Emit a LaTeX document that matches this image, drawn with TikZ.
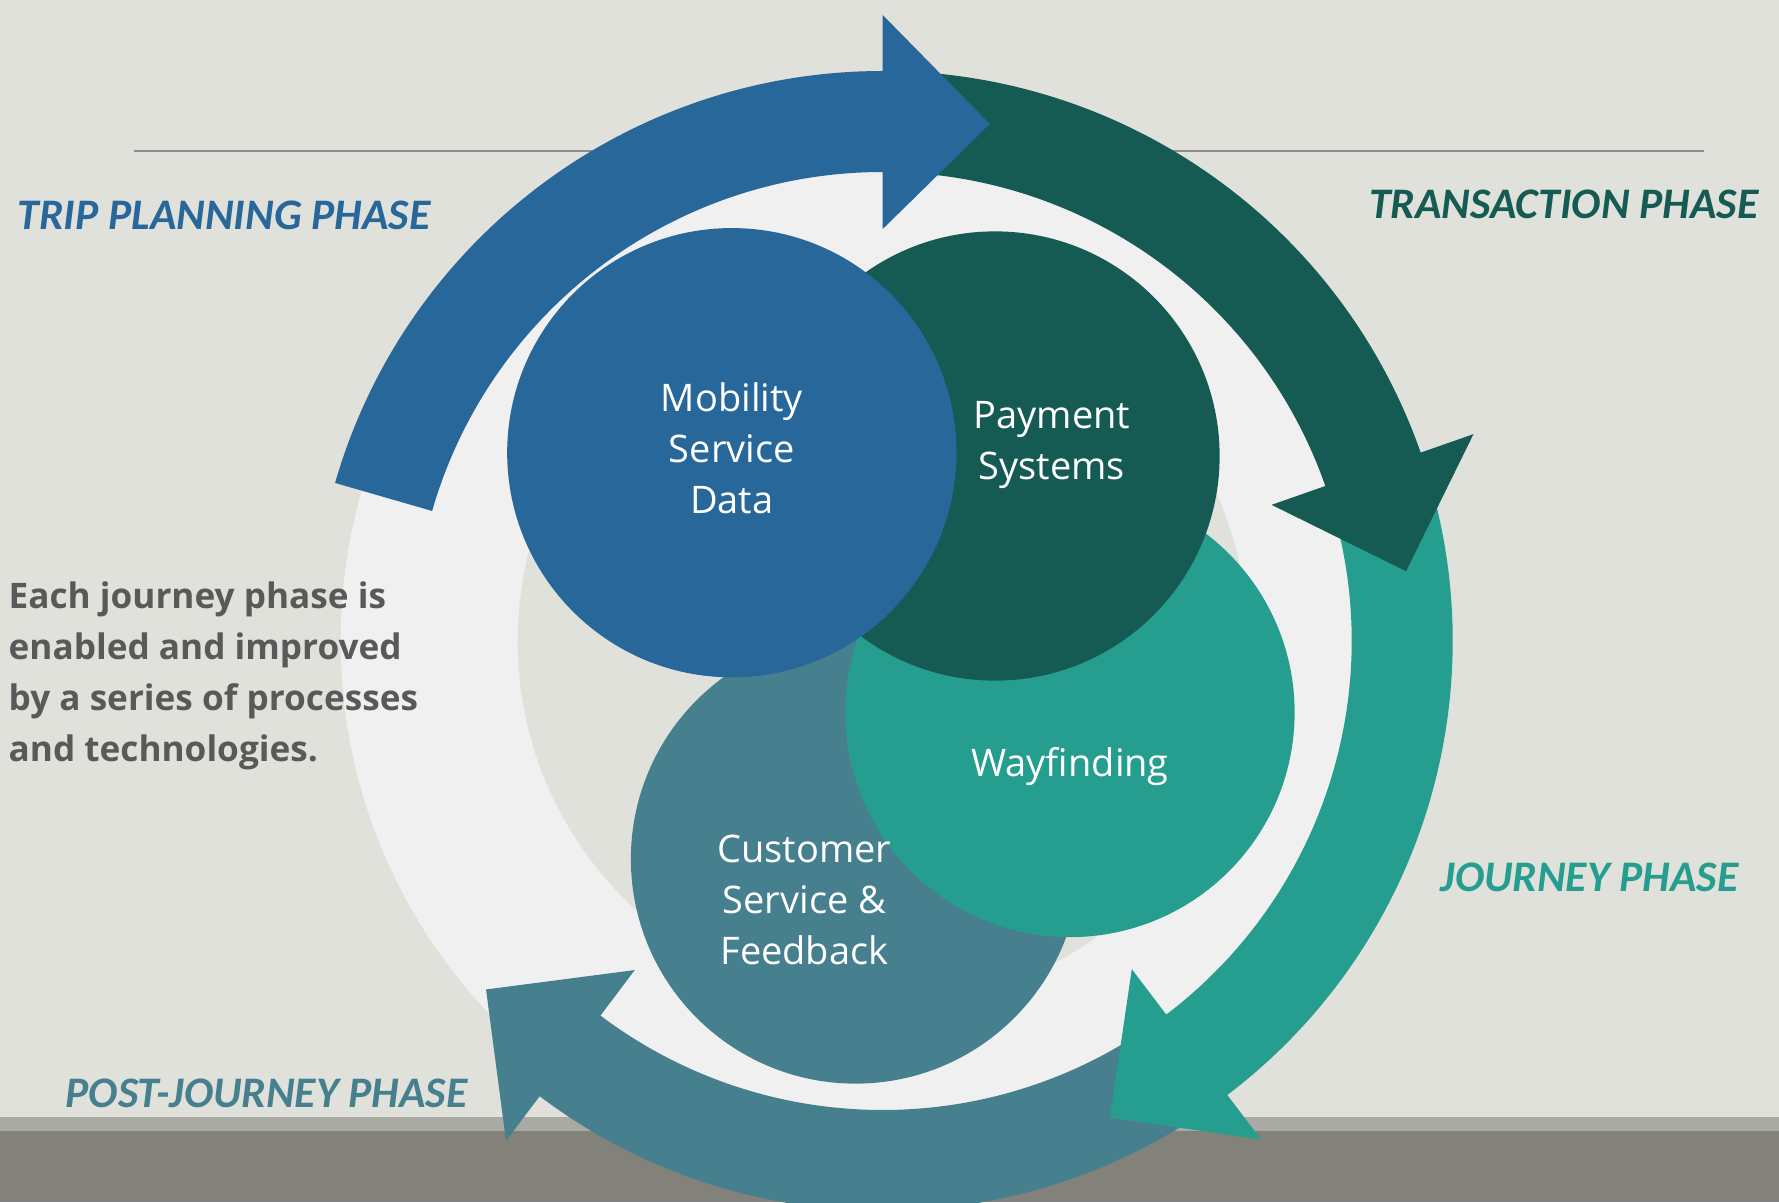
\documentclass[tikz,border=0pt]{standalone}
\usepackage{fontspec}
\setmainfont{Open Sans}
\newfontfamily\phasefont{Carlito}

\definecolor{bgGrey}{HTML}{E1E1DC}
\definecolor{ringWhite}{HTML}{F0F0F0}
\definecolor{planBlue}{HTML}{28679A}
\definecolor{payGreen}{HTML}{155B54}
\definecolor{wayTeal}{HTML}{259E8F}
\definecolor{careSlate}{HTML}{46808E}
\definecolor{textGrey}{HTML}{595959}
\definecolor{bandLight}{HTML}{AAAAA5}
\definecolor{bandDark}{HTML}{82827A}
\definecolor{ruleGrey}{HTML}{8E8E8A}

% curved phase arrow: start angle, end angle, colour
\newcommand{\phasearrow}[3]{%
  \fill[#3] (#1:570) arc[start angle=#1, end angle=#2, radius=570]
    -- (#2:626) -- ({#2-11.7}:528) -- (#2:412) -- (#2:469)
    arc[start angle=#2, end angle=#1, radius=469] -- cycle;
}

\begin{document}
\begin{tikzpicture}[
    x=0.01cm, y=0.01cm,
    disc/.style={circle, minimum size=4.49cm, inner sep=0pt},
    disctext/.style={text=white, align=center, inner sep=0pt, font=\fontsize{10.8}{14.5}\selectfont},
    phase/.style={inner sep=0pt, font=\phasefont\bfseries\itshape\fontsize{12.4}{14}\selectfont}
]
    \useasboundingbox (0,0) rectangle (1779,1202);

    % Background
    \fill[bgGrey] (0,0) rectangle (1779,1202);
    \fill[bandLight] (0,71) rectangle (1779,85);
    \fill[bandDark] (0,0) rectangle (1779,71);
    \draw[ruleGrey, line width=0.02cm] (134,1051) -- (1704,1051);

    % Ring and phase arrows
    \begin{scope}[shift={(882.7,561)}]
        \fill[ringWhite] (0,0) circle[radius=542];
        \fill[bgGrey] (0,0) circle[radius=365];
        \phasearrow{-52.8}{-127}{careSlate}
        \phasearrow{19.3}{-52.8}{wayTeal}
        \phasearrow{90}{19.3}{payGreen}
        \phasearrow{163.9}{90}{planBlue}
    \end{scope}

    % Processes and technologies
    \node[disc, fill=careSlate] (care) at (855.5,343) {};
    \node[disc, fill=wayTeal] (way) at (1070,489.5) {};
    \node[disc, fill=payGreen] (pay) at (995,746) {};
    \node[disc, fill=planBlue] (mob) at (731.8,749.3) {};

    \node[disctext] (mobText) at (731.8,754) {Mobility\\Service\\Data};
    \node[disctext] (payText) at (1051.8,757) {Payment\\Systems};
    \node[disctext] (wayText) at (1070,435) {Wayfinding};
    \node[disctext] (careText) at (804.4,302) {Customer\\Service \&\\Feedback};

    % Phase labels
    \node[phase, text=planBlue, anchor=west] (planLabel) at (17,987) {TRIP PLANNING PHASE};
    \node[phase, text=payGreen, anchor=east] (payLabel) at (1759,998) {TRANSACTION PHASE};
    \node[phase, text=wayTeal, anchor=east] (journeyLabel) at (1739,325) {JOURNEY PHASE};
    \node[phase, text=careSlate, anchor=west] (postLabel) at (65,109) {POST-JOURNEY PHASE};

    % Note
    \node[anchor=west, align=left, inner sep=0pt, text=textGrey,
          font=\bfseries\fontsize{10}{14.5}\selectfont] (note) at (8,526)
        {Each journey phase is\\enabled and improved\\by a series of processes\\and technologies.};

\end{tikzpicture}
\end{document}
